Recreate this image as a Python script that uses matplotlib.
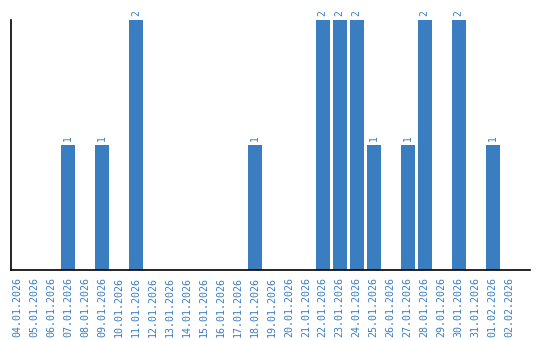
import matplotlib
matplotlib.use("Agg")
import matplotlib.pyplot as plt
import numpy as np

dates = ['04.01.2026', '05.01.2026', '06.01.2026', '07.01.2026', '08.01.2026',
         '09.01.2026', '10.01.2026', '11.01.2026', '12.01.2026', '13.01.2026',
         '14.01.2026', '15.01.2026', '16.01.2026', '17.01.2026', '18.01.2026',
         '19.01.2026', '20.01.2026', '21.01.2026', '22.01.2026', '23.01.2026',
         '24.01.2026', '25.01.2026', '26.01.2026', '27.01.2026', '28.01.2026',
         '29.01.2026', '30.01.2026', '31.01.2026', '01.02.2026', '02.02.2026']
counts = [0, 0, 0, 1, 0, 1, 0, 2, 0, 0, 0, 0, 0, 0, 1,
          0, 0, 0, 2, 2, 2, 1, 0, 1, 2, 0, 2, 0, 1, 0]

blue = '#3a7dc1'

fig = plt.figure(figsize=(5.4, 3.4), dpi=100)
ax = fig.add_axes([11/540, 70/340, 519/540, 250/340])

x = np.arange(len(dates))
ax.bar(x, counts, width=0.82, color=blue)
for xi, c in zip(x, counts):
    if c > 0:
        ax.text(xi, c + 0.03, str(c), rotation=90, ha='center', va='bottom',
                color=blue, fontsize=7, family='DejaVu Sans Mono')

ax.set_xlim(-0.35, 30.2)
ax.set_ylim(0, 2)
ax.set_xticks(x)
ax.set_xticklabels(dates, rotation=90, color=blue, fontsize=7.2,
                   family='DejaVu Sans Mono')
ax.tick_params(axis='x', length=0, pad=5)
ax.set_yticks([])
for s in ['top', 'right']:
    ax.spines[s].set_visible(False)
ax.spines['left'].set_linewidth(1.2)
ax.spines['bottom'].set_linewidth(1.2)

fig.savefig('out.png', dpi=100)
